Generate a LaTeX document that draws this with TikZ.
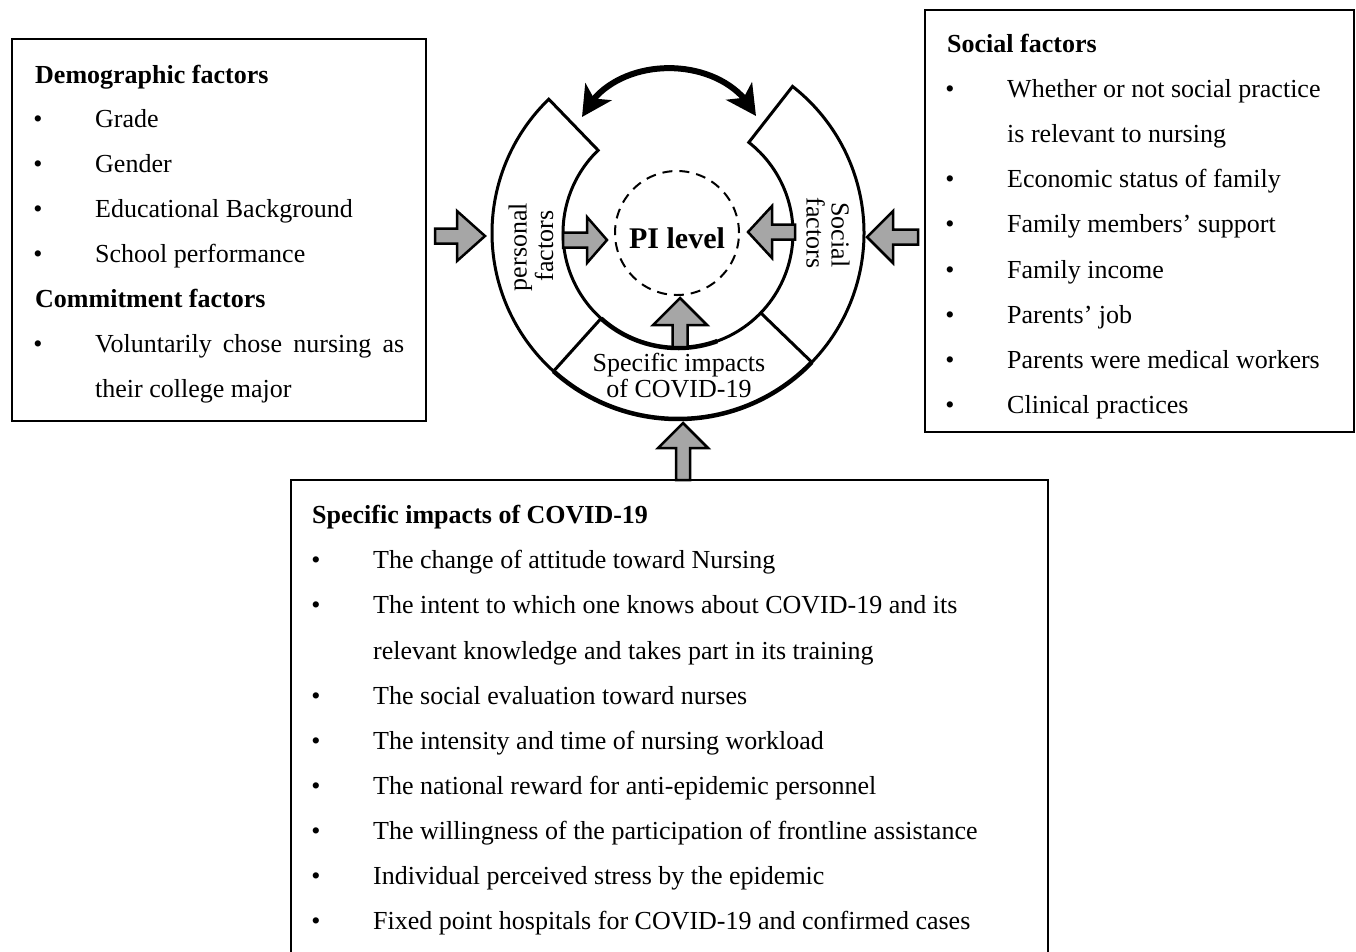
\documentclass[tikz,border=0pt]{standalone}
\usepackage{fontspec}
\setmainfont{Liberation Serif}
\usetikzlibrary{arrows.meta,bending}
\definecolor{arrowgray}{RGB}{166,166,166}
\newcommand\blockarr[7]{%
  \begin{scope}[shift={(#1,#2)}, rotate=#3]
    \draw[blk] (0,0) -- (-#4,#5) -- (-#4,#7) -- ({-#4-#6},#7) -- ({-#4-#6},-#7) -- (-#4,-#7) -- (-#4,-#5) -- cycle;
  \end{scope}}
\begin{document}
\begin{tikzpicture}[x=1pt,y=-1pt,
  box/.style={draw, line width=2pt, inner sep=0pt},
  txt/.style={anchor=base west, inner sep=0pt, font=\fontsize{26}{26}\selectfont},
  hd/.style={anchor=base west, inner sep=0pt, font=\fontsize{26}{26}\selectfont\bfseries},
  bul/.style={anchor=base, inner sep=0pt, font=\fontsize{26}{26}\selectfont},
  lbl/.style={anchor=base, inner sep=0pt, font=\fontsize{26}{26}\selectfont},
  ringline/.style={line width=3pt, line join=miter},
  ringthick/.style={line width=4.5pt},
  blk/.style={draw, line width=2.5pt, fill=arrowgray, line join=miter},
  dbl/.style={line width=6pt, {Stealth[length=30pt,width=31pt,inset=8pt,flex]}-{Stealth[length=30pt,width=31pt,inset=8pt,flex]}}
]
\useasboundingbox (0,0) rectangle (1356,951);

% ---------------- boxes ----------------
\node[box, minimum width=414pt, minimum height=382pt] (demo) at (219,230) {};
\node[box, minimum width=429pt, minimum height=422pt] (soc) at (1139.5,221) {};
\node[box, minimum width=757pt, minimum height=490pt] (cov) at (669.5,725) {};

% left box text
\node[hd] (d0) at (35,83) {Demographic factors};
\node[bul] (db1) at (38,127) {\textbullet}; \node[txt] (d1) at (95,127) {Grade};
\node[bul] (db2) at (38,172) {\textbullet}; \node[txt] (d2) at (95,172) {Gender};
\node[bul] (db3) at (38,217) {\textbullet}; \node[txt] (d3) at (95,217) {Educational Background};
\node[bul] (db4) at (38,262) {\textbullet}; \node[txt] (d4) at (95,262) {School performance};
\node[hd] (c0) at (35,307) {Commitment factors};
\node[bul] (cb1) at (38,352) {\textbullet}; \node[txt] (c1) at (95,352) {\makebox[309pt][s]{Voluntarily chose nursing as}};
\node[txt] (c2) at (95,397) {their college major};

% right box text
\node[hd] (s0) at (947,52) {Social factors};
\node[bul] (sb1) at (950,97) {\textbullet}; \node[txt] (s1) at (1007,97) {Whether or not social practice};
\node[txt] (s1b) at (1007,142) {is relevant to nursing};
\node[bul] (sb2) at (950,187) {\textbullet}; \node[txt] (s2) at (1007,187) {Economic status of family};
\node[bul] (sb3) at (950,232) {\textbullet}; \node[txt] (s3) at (1007,232) {Family members’ support};
\node[bul] (sb4) at (950,278) {\textbullet}; \node[txt] (s4) at (1007,278) {Family income};
\node[bul] (sb5) at (950,323) {\textbullet}; \node[txt] (s5) at (1007,323) {Parents’ job};
\node[bul] (sb6) at (950,368) {\textbullet}; \node[txt] (s6) at (1007,368) {Parents were medical workers};
\node[bul] (sb7) at (950,413) {\textbullet}; \node[txt] (s7) at (1007,413) {Clinical practices};

% bottom box text
\node[hd] (v0) at (312,523) {Specific impacts of COVID-19};
\node[bul] (vb1) at (316,568) {\textbullet}; \node[txt] (v1) at (373,568) {The change of attitude toward Nursing};
\node[bul] (vb2) at (316,613) {\textbullet}; \node[txt] (v2) at (373,613) {The intent to which one knows about COVID-19 and its};
\node[txt] (v2b) at (373,659) {relevant knowledge and takes part in its training};
\node[bul] (vb3) at (316,704) {\textbullet}; \node[txt] (v3) at (373,704) {The social evaluation toward nurses};
\node[bul] (vb4) at (316,749) {\textbullet}; \node[txt] (v4) at (373,749) {The intensity and time of nursing workload};
\node[bul] (vb5) at (316,794) {\textbullet}; \node[txt] (v5) at (373,794) {The national reward for anti-epidemic personnel};
\node[bul] (vb6) at (316,839) {\textbullet}; \node[txt] (v6) at (373,839) {The willingness of the participation of frontline assistance};
\node[bul] (vb7) at (316,884) {\textbullet}; \node[txt] (v7) at (373,884) {Individual perceived stress by the epidemic};
\node[bul] (vb8) at (316,929) {\textbullet}; \node[txt] (v8) at (373,929) {Fixed point hospitals for COVID-19 and confirmed cases};

% ---------------- ring (local frame: y up, centre of ring at origin) ----------------
\begin{scope}[x=1pt, y=1pt, shift={(678pt,-233pt)}]
  \draw[ringline] (134:186) arc[start angle=134, end angle=228, radius=186]
      -- (228:115) arc[start angle=228, end angle=134, radius=115] -- cycle;
  \draw[ringline] (-44:186) arc[start angle=-44, end angle=52, radius=186]
      -- (52:115) arc[start angle=52, end angle=-44, radius=115] -- cycle;
  \draw[ringthick] (228:186) arc[start angle=228, end angle=316, radius=186];
  \draw[ringthick] (228:115) arc[start angle=228, end angle=290, radius=115];
  \draw[ringline] (289:115) arc[start angle=289, end angle=316, radius=115];
  \draw[line width=2pt, dash pattern=on 10pt off 7pt] (-1,0) circle[radius=62];
\end{scope}

\node[inner sep=0pt, font=\fontsize{30}{30}\selectfont\bfseries] (pi) at (677,238) {PI level};

\node[lbl, rotate=90] (p1) at (526.5,247) {personal};
\node[lbl, rotate=90] (p2) at (553,246) {factors};
\node[lbl, rotate=-90] (q1) at (831.5,235) {Social};
\node[lbl, rotate=-90] (q2) at (806.5,233) {factors};
\node[lbl] (r1) at (679,371) {Specific impacts};
\node[lbl] (r2) at (679,397) {of COVID-19};

% ---------------- block arrows ----------------
\blockarr{485}{236}{0}{28}{25}{22}{7.5}
\blockarr{607}{240}{0}{20}{23}{24}{7.5}
\blockarr{748}{232}{180}{24}{26}{23}{7.5}
\blockarr{867}{237}{180}{26}{26}{25}{7.5}
\blockarr{680}{298}{90}{27}{27}{22}{7.5}
\blockarr{683}{423}{90}{25}{25}{32}{7}

% ---------------- double arrow ----------------
\coordinate (al) at (582,117);
\coordinate (ar) at (756,116);
\draw[dbl] (al) .. controls (612,52) and (725,52) .. (ar);
\end{tikzpicture}
\end{document}
